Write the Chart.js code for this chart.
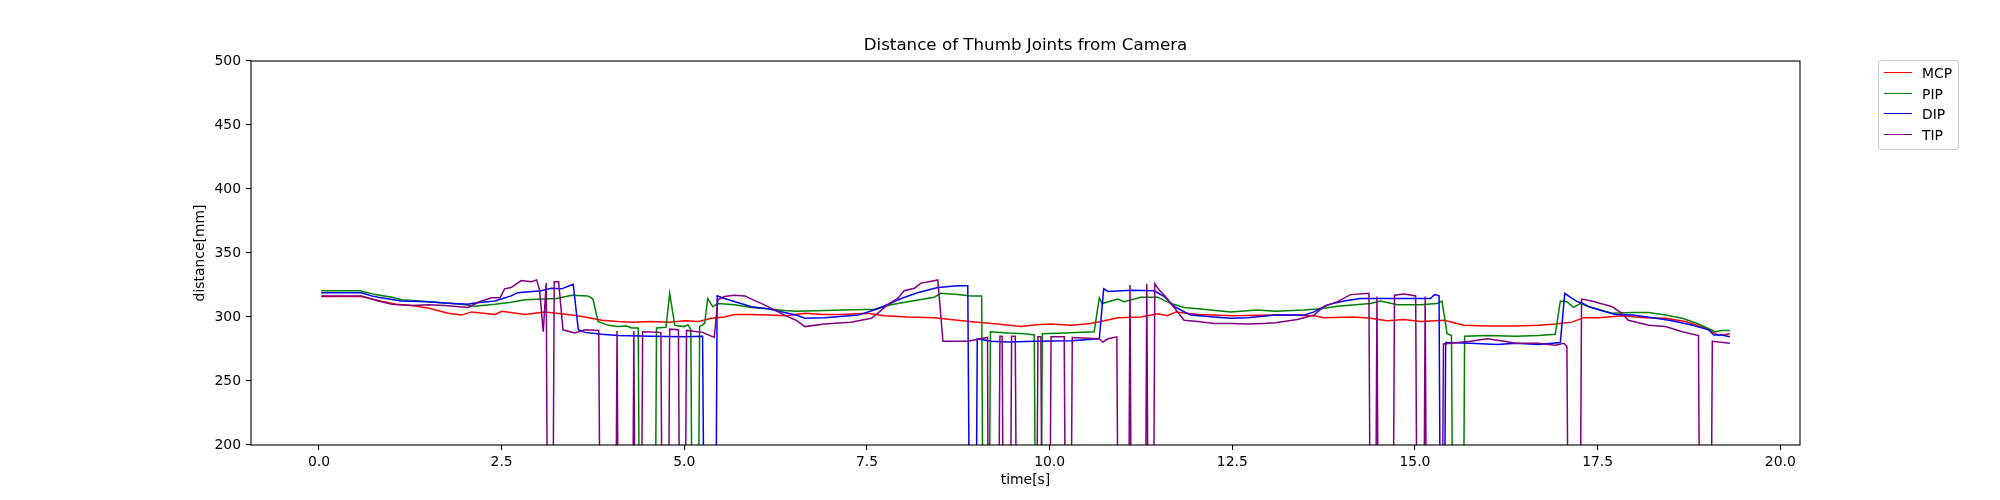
<!DOCTYPE html>
<html>
<head>
<meta charset="utf-8">
<title>Distance of Thumb Joints from Camera</title>
<script src="https://cdn.jsdelivr.net/npm/chart.js@4.4.1/dist/chart.umd.min.js"></script>
<style>
  html, body { margin: 0; padding: 0; background: #fff; }
  #wrap { position: relative; width: 2000px; height: 500px; font-family: "DejaVu Sans", sans-serif; }
  #legend { position: absolute; left: 1878px; top: 60px; width: 79px; height: 88px;
            border: 1px solid #cccccc; border-radius: 3px; background: rgba(255,255,255,0.8); }
  .leg-row { position: absolute; left: 0; height: 20px; line-height: 20px; font-size: 13.9px; color: #000; }
  .leg-line { position: absolute; left: 5px; top: 9px; width: 28px; height: 0; border-top: 1.5px solid; }
  .leg-text { position: absolute; left: 43px; top: 0; white-space: nowrap; }
</style>
</head>
<body>
<div id="wrap">
  <canvas id="grafico" width="2000" height="500"></canvas>
  <div id="legend"></div>
</div>
<script>
// valores: pares [tempo (s), distância (mm)]; 0 = junta perdida pelo sensor
const seriesNames  = ['MCP', 'PIP', 'DIP', 'TIP'];
const seriesColors = ['#ff0000', '#008000', '#0000ff', '#800080'];
const xTicks = [0, 2.5, 5, 7.5, 10, 12.5, 15, 17.5, 20];
const yTicks = [200, 250, 300, 350, 400, 450, 500];

const mcp = [[0.03,316],[0.58,316],[0.81,313],[1.05,310],[1.27,309],[1.49,307],[1.77,303],[1.95,301.5],[2.09,304],[2.25,303],
  [2.41,302],[2.5,304.5],[2.82,302],[3.09,304],[3.25,303],[3.46,301.5],[3.64,300],[3.87,297.5],[4.09,296.5],[4.3,296],
  [4.55,296.5],[4.8,296],[5.0,297],[5.2,296.5],[5.37,299],[5.55,300],[5.69,302],[5.92,302],[6.14,301.5],[6.4,301],
  [6.65,303],[6.9,302],[7.15,302],[7.51,303],[7.74,301],[8.06,300],[8.42,299.5],[8.74,297.5],[9.01,296],[9.29,294.5],
  [9.61,292.5],[9.81,294],[10.02,294.5],[10.3,293.5],[10.56,295],[10.75,297],[10.93,299.5],[11.25,300],[11.48,302.5],[11.61,301],
  [11.73,304],[12.03,302],[12.5,301],[13.09,301.5],[13.25,301.5],[13.62,301],[13.75,299.5],[14.16,300],[14.39,299],[14.62,297],
  [14.85,298],[15.08,296.5],[15.4,297.5],[15.67,293.5],[16.0,293],[16.38,293],[16.69,293.5],[16.92,294.5],[17.15,296],[17.31,299.5],
  [17.52,299.5],[17.83,301],[18.15,299.5],[18.43,299],[18.7,296.5],[18.97,291.5],[19.16,285.5],[19.31,287]];

const pip = [[0.03,320.5],[0.56,320.5],[0.77,317.5],[1.0,315.5],[1.13,313.5],[1.5,312],[1.95,310],[2.13,308.5],[2.41,310],[2.63,311.5],
  [2.82,313.5],[3.25,314.5],[3.46,317],[3.68,316.5],[3.75,314],[3.82,296.5],[3.96,293.5],[4.09,292.5],[4.21,293],[4.28,291.5],
  [4.37,291.5],[4.4,0],[4.59,0],[4.62,291.5],[4.75,292],[4.8,318.5],[4.87,293.5],[5.0,292.5],[5.05,294],[5.09,290],
  [5.12,0],[5.18,0],[5.21,292.5],[5.28,295],[5.32,314.5],[5.39,308],[5.46,310.5],[5.69,309.5],[5.92,307.5],[6.14,306.5],
  [6.37,305],[6.53,304.5],[7.19,305.5],[7.6,306],[7.83,309.5],[8.06,312],[8.28,314],[8.42,315.5],[8.51,318.5],[8.74,317.5],
  [8.92,316.5],[9.07,316.5],[9.1,0],[9.16,0],[9.19,288.5],[9.43,287.5],[9.66,287],[9.79,286],[9.82,0],[9.87,0],
  [9.9,287],[10.2,287.5],[10.61,288.5],[10.68,315],[10.72,310.5],[10.93,314],[11.02,312],[11.25,315.5],[11.48,315.5],[11.66,310.5],
  [11.84,307.5],[12.03,306.5],[12.48,304],[12.84,305.5],[13.09,304.5],[13.48,305.5],[13.71,306.5],[13.94,308.5],[14.39,310.5],[14.53,312.5],
  [14.76,309.5],[15.08,309.5],[15.3,310.5],[15.37,312.5],[15.44,287],[15.5,285.5],[15.53,0],[15.65,0],[15.68,285],[15.99,285.5],
  [16.38,285],[16.69,285.5],[16.92,286.5],[16.99,312.5],[17.08,312],[17.17,307.5],[17.26,310.5],[17.42,307.5],[17.7,303],[17.98,303.5],
  [18.2,303.5],[18.43,301.5],[18.66,299],[18.88,294.5],[19.11,288.5],[19.2,289.5],[19.31,289.5]];

const dip = [[0.03,319],[0.58,319],[0.72,316.5],[0.81,315.5],[1.13,312.5],[1.5,312],[1.72,311],[2.04,310],[2.13,311],[2.41,312.5],
  [2.63,316.5],[2.72,319],[3.04,320.5],[3.18,322.5],[3.32,322],[3.48,325.5],[3.55,290],[3.64,288],[3.87,286.5],[4.09,285.5],
  [4.55,285],[5.0,284.5],[5.25,285],[5.29,0],[5.42,0],[5.45,316.5],[5.55,314.5],[5.92,308],[6.14,306.5],[6.37,303.5],
  [6.53,301.5],[6.65,299],[6.92,299.5],[7.38,301.5],[7.65,306.5],[7.97,314.5],[8.19,319],[8.47,323],[8.74,324.5],[8.88,324.5],
  [8.92,0],[8.98,0],[9.01,283],[9.2,281],[9.43,280.5],[9.81,281],[10.3,281.5],[10.68,283],[10.74,322],[10.8,320],
  [11.11,321],[11.43,320.5],[11.57,316],[11.71,308],[11.93,301.5],[12.25,300],[12.48,299],[12.71,299.5],[13.09,301.5],[13.48,301.5],
  [13.62,304],[13.8,309.5],[14.03,312.5],[14.25,314.5],[14.85,314.5],[15.21,314.5],[15.27,317.5],[15.33,316.5],[15.36,0],[15.39,0],
  [15.42,280],[15.76,279.5],[16.13,278.5],[16.38,279.5],[16.69,278.5],[16.99,280],[17.05,318.5],[17.15,314.5],[17.22,312],[17.29,311],
  [17.38,308],[17.61,304],[17.75,302],[17.98,301.5],[18.3,299],[18.52,297],[18.8,293.5],[19.02,290],[19.09,286],[19.2,286],
  [19.31,284.5]];

const tip = [[0.03,316.5],[0.58,316.5],[0.81,312.5],[1.0,310],[1.27,309],[1.5,309.5],[1.72,309],[2.04,307.5],[2.18,311.5],[2.36,315],
  [2.48,315],[2.54,322],[2.63,323],[2.77,328.5],[2.91,327.5],[2.98,329],[3.02,321],[3.07,288.5],[3.11,326.5],[3.14,0],
  [3.19,0],[3.22,327.5],[3.28,327.5],[3.34,290],[3.5,287.5],[3.64,290],[3.83,289.5],[3.86,0],[4.05,0],[4.08,289],
  [4.11,0],[4.28,0],[4.31,289],[4.34,0],[4.4,0],[4.43,288.5],[4.68,288],[4.71,0],[4.77,0],[4.8,290.5],
  [4.92,290],[4.95,0],[5.0,0],[5.03,289.5],[5.25,288],[5.41,284],[5.46,313.5],[5.55,316],[5.69,317],[5.83,316.5],
  [5.92,314],[6.06,310.5],[6.2,306.5],[6.37,301.5],[6.53,297.5],[6.65,292.5],[6.92,294.5],[7.28,296],[7.56,299],[7.65,303],
  [7.78,309.5],[7.92,314.5],[8.01,320.5],[8.15,322.5],[8.24,326.5],[8.38,328],[8.47,329],[8.54,281],[8.88,281],[9.15,284],
  [9.17,0],[9.29,0],[9.32,285],[9.35,285],[9.38,0],[9.45,0],[9.48,285],[9.53,285],[9.56,0],[9.81,0],
  [9.84,284.5],[9.88,284.5],[9.91,0],[9.99,0],[10.02,284.5],[10.2,284.5],[10.23,0],[10.28,0],[10.31,284],[10.68,283],
  [10.73,280.5],[10.8,283],[10.92,284.5],[10.95,0],[11.07,0],[11.1,325],[11.13,0],[11.3,0],[11.33,326],[11.36,0],
  [11.41,0],[11.44,326],[11.5,321],[11.57,317],[11.66,310.5],[11.75,304],[11.84,297.5],[12.03,296.5],[12.25,295],[12.48,295],
  [12.71,294.5],[12.93,295],[13.09,295.5],[13.39,298],[13.62,301.5],[13.75,308],[13.94,312],[14.12,317.5],[14.37,318.5],[14.4,0],
  [14.45,0],[14.48,316],[14.51,0],[14.69,0],[14.72,317],[14.85,318],[15.01,316.5],[15.04,0],[15.11,0],[15.14,316],
  [15.17,0],[15.36,0],[15.39,279],[15.76,281],[15.99,283],[16.22,281],[16.38,279.5],[16.69,279.5],[16.92,278],[17.04,279.5],
  [17.08,277],[17.11,0],[17.25,0],[17.28,314],[17.42,312.5],[17.7,308],[17.83,303],[17.92,297.5],[18.2,293.5],[18.43,292.5],
  [18.66,288.5],[18.88,285.5],[18.91,0],[19.04,0],[19.07,281],[19.31,279.5]];

const seriesData = [mcp, pip, dip, tip];

/** Moldura completa do eixo (como no matplotlib) */
const moldura = {
  id: 'moldura',
  afterDatasetsDraw(chart) {
    const { ctx, chartArea: a } = chart;
    ctx.save();
    ctx.strokeStyle = '#000';
    ctx.lineWidth = 1.1;
    ctx.strokeRect(a.left, a.top, a.right - a.left, a.bottom - a.top);
    ctx.restore();
  }
};

const fonte = { family: 'DejaVu Sans', size: 13.9 };

const grafico = new Chart(document.getElementById('grafico').getContext('2d'), {
  type: 'line',
  data: {
    datasets: seriesData.map((pts, i) => ({
      label: seriesNames[i],
      data: pts.map(p => ({ x: p[0], y: p[1] })),
      borderColor: seriesColors[i],
      backgroundColor: seriesColors[i],
      borderWidth: 1.5,
      pointRadius: 0,
      tension: 0,
      fill: false,
      order: seriesData.length - i
    }))
  },
  options: {
    responsive: false,
    animation: false,
    layout: { padding: { top: 0, right: 200, bottom: 0, left: 0 } },
    plugins: {
      legend: { display: false },
      tooltip: { enabled: false },
      title: {
        display: true, fullSize: false,
        text: 'Distance of Thumb Joints from Camera',
        color: '#000',
        font: { family: 'DejaVu Sans', size: 16.7, weight: 'normal' },
        padding: { top: 36, bottom: 5 }
      }
    },
    scales: {
      x: {
        type: 'linear', min: -0.93, max: 20.27,
        afterFit: s => { s.height = 55; },
        afterBuildTicks: s => { s.ticks = xTicks.map(v => ({ value: v })); },
        ticks: { color: '#000', font: fonte, padding: 4, maxRotation: 0, autoSkip: false, callback: v => v.toFixed(1) },
        grid: { display: true, drawOnChartArea: false, drawTicks: true, tickLength: 5, color: '#000', lineWidth: 1.1 },
        border: { display: false },
        title: { display: true, text: 'time[s]', color: '#000', font: fonte, padding: { top: 0, bottom: 11.7 } }
      },
      y: {
        type: 'linear', min: 200, max: 500,
        afterFit: s => { s.width = 251; },
        afterBuildTicks: s => { s.ticks = yTicks.map(v => ({ value: v })); },
        ticks: { color: '#000', font: fonte, padding: 5, autoSkip: false },
        grid: { display: true, drawOnChartArea: false, drawTicks: true, tickLength: 5, color: '#000', lineWidth: 1.1 },
        border: { display: false },
        title: { display: true, text: 'distance[mm]', color: '#000', font: fonte, padding: { top: 191.7, bottom: 0 } }
      }
    }
  },
  plugins: [moldura]
});

// legenda no canto superior direito, fora da área do gráfico
const legenda = document.getElementById('legend');
const centrosLinhas = [12, 33, 53, 74];
seriesNames.forEach((nome, i) => {
  const row = document.createElement('div');
  row.className = 'leg-row';
  row.style.top = (centrosLinhas[i] - 10) + 'px';
  row.innerHTML = `<span class="leg-line" style="border-color:${seriesColors[i]}"></span><span class="leg-text">${nome}</span>`;
  legenda.appendChild(row);
});
</script>
</body>
</html>
